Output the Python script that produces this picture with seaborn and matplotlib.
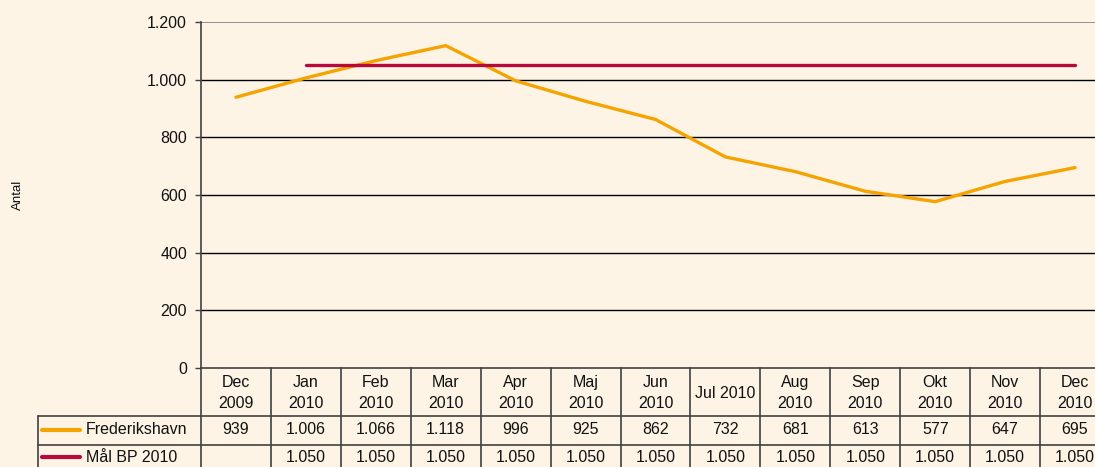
import matplotlib
matplotlib.use("Agg")
import matplotlib.pyplot as plt
import numpy as np
import pandas as pd
import seaborn as sns

# data
months = ["Dec\n2009", "Jan\n2010", "Feb\n2010", "Mar\n2010", "Apr\n2010", "Maj\n2010",
          "Jun\n2010", "Jul 2010", "Aug\n2010", "Sep\n2010", "Okt\n2010", "Nov\n2010", "Dec\n2010"]
frederikshavn = [939, 1006, 1066, 1118, 996, 925, 862, 732, 681, 613, 577, 647, 695]
maal_bp = [np.nan, 1050, 1050, 1050, 1050, 1050, 1050, 1050, 1050, 1050, 1050, 1050, 1050]
series_names = ["Frederikshavn", "Mål BP 2010"]
series_colors = ["#F5A300", "#B8083C"]
yticks = [0, 200, 400, 600, 800, 1000, 1200]

bg = "#FDF4E6"
sns.set_theme(style="white")
plt.rcParams["font.family"] = ["Liberation Sans", "DejaVu Sans"]
fs = 11.5

def fmt(v):
    if np.isnan(v):
        return ""
    return f"{int(v):,}".replace(",", ".")

df = pd.DataFrame({"idx": np.arange(len(months)),
                   series_names[0]: frederikshavn,
                   series_names[1]: maal_bp})
long_df = df.melt(id_vars="idx", var_name="serie", value_name="antal")

W, H = 1095, 467
fig = plt.figure(figsize=(W / 100, H / 100), dpi=100, facecolor=bg)
# chart is cropped on the right in the original, so the axes run past the figure edge
left, right, top, zero = 201, 1110, 22, 368
ax = fig.add_axes([left / W, (H - zero) / H, (right - left) / W, (zero - top) / H])
ax.set_facecolor(bg)

sns.lineplot(data=long_df, x="idx", y="antal", hue="serie",
             palette=dict(zip(series_names, series_colors)),
             linewidth=2.4, legend=False, ax=ax, solid_capstyle="round")

n = len(months)
ax.set_xlim(-0.5, n - 0.5)
ax.set_ylim(0, 1200)
ax.set_yticks(yticks)
ax.set_yticklabels([fmt(v) for v in yticks], fontsize=fs, color="#111111")
ax.set_xticks([])
ax.set_xlabel("")
ax.set_ylabel("Antal", fontsize=9.5, color="#111111", labelpad=0)
ax.yaxis.set_label_coords(-(left - 24) / (right - left), 0.5)
for v in yticks[1:-1]:
    ax.axhline(v, color="black", linewidth=1.0, zorder=0)
ax.axhline(1200, color="#808080", linewidth=1.2, zorder=0)
for s in ["top", "right"]:
    ax.spines[s].set_visible(False)
for s in ["left", "bottom"]:
    ax.spines[s].set_color("#404040")
    ax.spines[s].set_linewidth(1.2)
ax.tick_params(axis="y", left=True, length=4, width=1, color="#404040", pad=6)

# data table underneath, in category units
cw = (right - left) / n
lab_left = -0.5 - (left - 38) / cw
tax = fig.add_axes([38 / W, 0, (right - 38) / W, (H - zero) / H])
tax.set_xlim(lab_left, n - 0.5)
tax.set_ylim(H - zero, 0)
tax.axis("off")
r1, r2, r3 = 48, 77, 106
lc = "#404040"
for i in range(n + 1):
    tax.plot([i - 0.5, i - 0.5], [0, r3], color=lc, linewidth=1.2, clip_on=False)
tax.plot([lab_left, lab_left], [r1, r3], color=lc, linewidth=1.2, clip_on=False)
for yy in [r1, r2]:
    tax.plot([lab_left, n - 0.5], [yy, yy], color=lc, linewidth=1.2, clip_on=False)

for i, m in enumerate(months):
    tax.text(i, r1 / 2 + 1, m, ha="center", va="center", fontsize=fs,
             color="#111111", linespacing=1.45)
row_y = [62, 89]
for yc, name, vals, col in zip(row_y, series_names, [frederikshavn, maal_bp], series_colors):
    tax.plot([lab_left + 0.06, lab_left + 0.6], [yc, yc], color=col, linewidth=3,
             solid_capstyle="round", clip_on=False)
    tax.text(lab_left + 0.69, yc, name, ha="left", va="center", fontsize=fs, color="#111111")
    for i, v in enumerate(vals):
        tax.text(i, yc, fmt(v), ha="center", va="center", fontsize=fs, color="#111111")

fig.savefig("out.png", dpi=100, facecolor=bg)
